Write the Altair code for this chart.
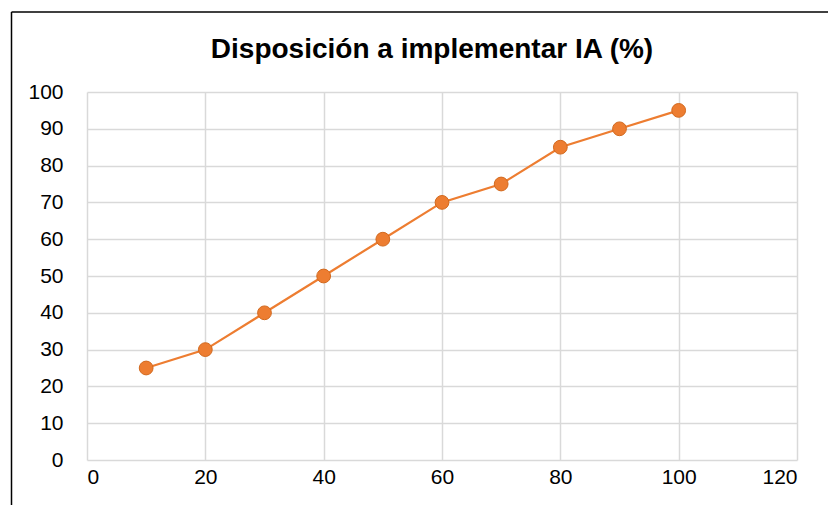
import altair as alt
import pandas as pd

x_vals = [10, 20, 30, 40, 50, 60, 70, 80, 90, 100]
y_vals = [25, 30, 40, 50, 60, 70, 75, 85, 90, 95]
title_text = "Disposición a implementar IA (%)"

df = pd.DataFrame({"x": x_vals, "y": y_vals})

W, H = 710, 368
base = alt.Chart(df).encode(
    x=alt.X("x:Q", scale=alt.Scale(domain=[0, 120], nice=False),
            axis=alt.Axis(values=[0, 20, 40, 60, 80, 100, 120], title=None, grid=True,
                          domain=False, ticks=False, labelPadding=6,
                          labelFontSize=21, labelFont="Liberation Sans", labelColor="#000000",
                          gridColor="#d9d9d9", gridWidth=1.5)),
    y=alt.Y("y:Q", scale=alt.Scale(domain=[0, 100], nice=False),
            axis=alt.Axis(values=list(range(0, 101, 10)), title=None, grid=True,
                          domain=False, ticks=False, labelPadding=24,
                          labelFontSize=21, labelFont="Liberation Sans", labelColor="#000000",
                          gridColor="#d9d9d9", gridWidth=1.5)),
)

line = base.mark_line(color="#ED7D31", strokeWidth=2.2)
pts = base.mark_circle(size=190, color="#ED7D31", opacity=1, stroke="#D2691E", strokeWidth=1)

one = pd.DataFrame({"t": [title_text]})
title = alt.Chart(one).mark_text(fontSize=28, font="Liberation Sans", fontWeight="bold",
                                 color="#000000", align="center", baseline="alphabetic").encode(
    text="t:N", x=alt.value(345), y=alt.value(-34))

border_left = alt.Chart(one).mark_rule(color="#000000", strokeWidth=1.5).encode(
    x=alt.value(-75.5), y=alt.value(-80), y2=alt.value(H + 60))
border_top = alt.Chart(one).mark_rule(color="#000000", strokeWidth=1.5).encode(
    x=alt.value(-75.5), x2=alt.value(W + 60), y=alt.value(-80))

chart = alt.layer(border_left, border_top, line, pts, title).properties(
    width=W, height=H,
    autosize=alt.AutoSizeParams(type="none"),
    padding={"left": 87, "top": 92, "right": 31, "bottom": 45},
).configure_view(stroke=None)

chart.save("out.html", embed_options={"renderer": "svg", "actions": False})
